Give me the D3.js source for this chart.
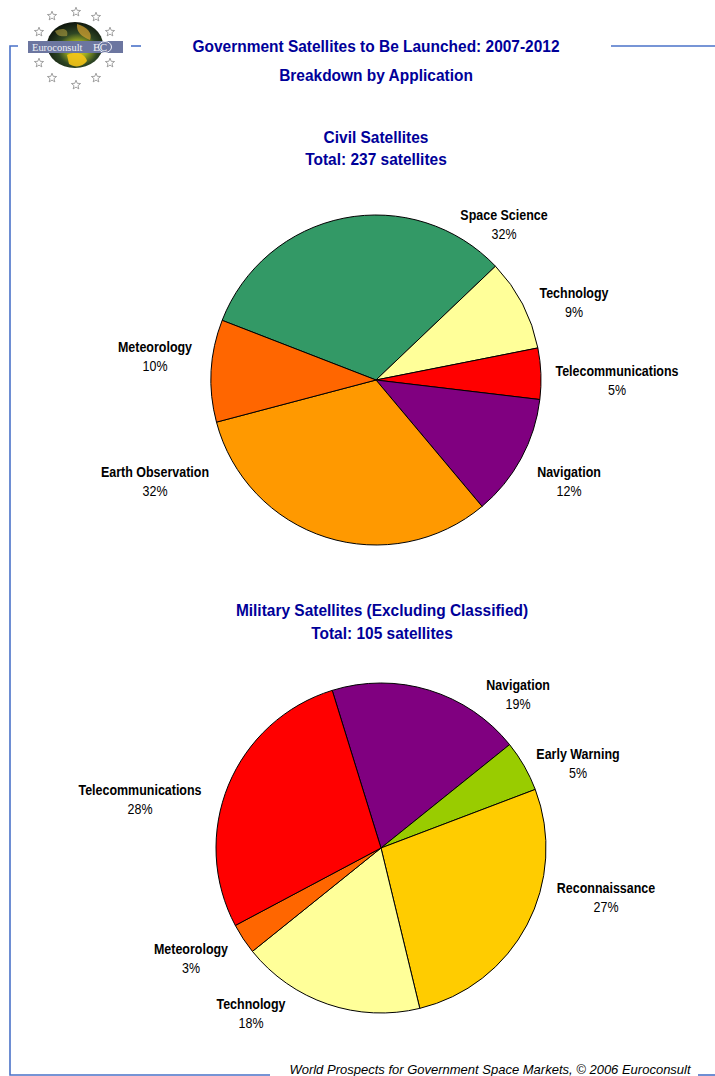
<!DOCTYPE html>
<html>
<head>
<meta charset="utf-8">
<script src="https://cdn.jsdelivr.net/npm/d3@7"></script>
<style>
  html, body { margin: 0; padding: 0; background: #ffffff; }
  svg { display: block; }
</style>
</head>
<body>
<svg id="chart" width="715" height="1076"></svg>
<script>
// Civil satellites, share by application (%)
const civilApps = ["Space Science", "Technology", "Telecommunications", "Navigation", "Earth Observation", "Meteorology"];
const civilShares = [32, 9, 5, 12, 32, 10];
const civilColors = ["#339966", "#FFFF99", "#FF0000", "#800080", "#FF9900", "#FF6600"];

// Military satellites (excluding classified), share by application (%)
const milApps = ["Navigation", "Early Warning", "Reconnaissance", "Technology", "Meteorology", "Telecommunications"];
const milShares = [19, 5, 27, 18, 3, 28];
const milColors = ["#800080", "#99CC00", "#FFCC00", "#FFFF99", "#FF6600", "#FF0000"];

const civilTotal = 237;
const milTotal = 105;

const svg = d3.select("#chart");
const frameColor = "#4a72c8";
const titleColor = "#000099";
const font = '"Liberation Sans", Arial, sans-serif';

// Condensed text: horizontal squeeze around the anchor point
function narrowText(parent, x, y, txt, opts) {
  const t = parent.append("text")
    .attr("transform", `translate(${x},${y}) scale(${opts.squeeze},1)`)
    .attr("text-anchor", opts.anchor || "middle")
    .attr("font-family", opts.family || font)
    .attr("font-size", opts.size)
    .attr("fill", opts.color || "#000")
    .text(txt);
  if (opts.bold) t.attr("font-weight", "bold");
  if (opts.italic) t.attr("font-style", "italic");
  return t;
}

// ---- page frame ----
const frame = svg.append("g").attr("stroke", frameColor).attr("stroke-width", 1.6).attr("fill", "none");
frame.append("path").attr("d", "M18,46 H10 V1075 H270");
frame.append("line").attr("x1", 131).attr("x2", 141).attr("y1", 46).attr("y2", 46);
frame.append("line").attr("x1", 611).attr("x2", 715).attr("y1", 46).attr("y2", 46);
frame.append("line").attr("x1", 698).attr("x2", 715).attr("y1", 1075).attr("y2", 1075);

// ---- logo ----
const defs = svg.append("defs");
const globeGrad = defs.append("radialGradient").attr("id", "globe").attr("cx", "55%").attr("cy", "60%").attr("r", "65%");
globeGrad.append("stop").attr("offset", "0%").attr("stop-color", "#f0d818");
globeGrad.append("stop").attr("offset", "28%").attr("stop-color", "#98a820");
globeGrad.append("stop").attr("offset", "55%").attr("stop-color", "#2e4624");
globeGrad.append("stop").attr("offset", "100%").attr("stop-color", "#080c08");
const logo = svg.append("g").attr("transform", "translate(75,45)");
logo.append("ellipse").attr("rx", 28).attr("ry", 23).attr("fill", "url(#globe)");
logo.append("path").attr("d", "M-8,10 C0,6 10,8 12,16 C8,22 0,23 -6,19 Z").attr("fill", "#f4c418").attr("opacity", 0.9);
logo.append("path").attr("d", "M2,-21 C12,-18 18,-12 15,-5 C7,-8 1,-13 2,-21 Z").attr("fill", "#d0a030").attr("opacity", 0.75);
logo.append("path").attr("d", "M-20,-14 C-12,-18 -6,-16 -8,-9 C-14,-8 -18,-9 -20,-14 Z").attr("fill", "#b0a040").attr("opacity", 0.6);
logo.append("rect").attr("x", -47).attr("y", -4).attr("width", 95).attr("height", 12).attr("fill", "#6c76a0");
const serif = '"Liberation Serif", "DejaVu Serif", serif';
narrowText(logo, -43, 6, "Euroconsult", { size: 11, squeeze: 0.95, anchor: "start", family: serif, color: "#eef0f6" });
narrowText(logo, 18, 6, "EC", { size: 11, squeeze: 1, anchor: "start", family: serif, color: "#eef0f6" });
logo.append("ellipse").attr("cx", 30).attr("cy", 2).attr("rx", 6.5).attr("ry", 5.5)
  .attr("fill", "none").attr("stroke", "#eef0f6").attr("stroke-width", 1);
const starPts = d3.range(10).map(i => {
  const r = i % 2 === 0 ? 4.8 : 2.1;
  const a = -Math.PI / 2 + i * Math.PI / 5;
  return [r * Math.cos(a), r * Math.sin(a)];
});
const starLocs = [[1, -33], [-23, -29], [21, -28], [-36, -13], [35, -13], [-36, 18], [35, 18], [-23, 33], [21, 33], [1, 40]];
logo.selectAll("polygon.star").data(starLocs).enter().append("polygon")
  .attr("class", "star")
  .attr("points", starPts.map(p => p.join(",")).join(" "))
  .attr("transform", d => `translate(${d[0]},${d[1]})`)
  .attr("fill", "#ffffff").attr("stroke", "#8a8a8a").attr("stroke-width", 0.8);

// ---- headings ----
const heads = svg.append("g");
const heading = (x, y, txt) => narrowText(heads, x, y, txt, { size: 17, squeeze: 0.91, bold: true, color: titleColor });
heading(376, 52, "Government Satellites to Be Launched: 2007-2012");
heading(376, 81, "Breakdown by Application");
heading(376, 143, "Civil Satellites");
heading(376, 165, `Total: ${civilTotal} satellites`);
heading(382, 616, "Military Satellites (Excluding Classified)");
heading(382, 639, `Total: ${milTotal} satellites`);

// ---- pies ----
const deg = Math.PI / 180;
function drawPie(cfg) {
  const data = cfg.apps.map((a, i) => ({ app: a, value: cfg.values[i], color: cfg.colors[i], label: cfg.labels[i] }));
  const pie = d3.pie().value(d => d.value).sort(null)
    .startAngle(cfg.start * deg).endAngle(cfg.start * deg + 2 * Math.PI);
  const arc = d3.arc().innerRadius(0).outerRadius(cfg.r);
  const g = svg.append("g").attr("transform", `translate(${cfg.cx},${cfg.cy})`);
  const arcs = pie(data);
  g.selectAll("path").data(arcs).enter().append("path")
    .attr("d", arc).attr("fill", d => d.data.color)
    .attr("stroke", "#000").attr("stroke-width", 1).attr("stroke-linejoin", "round");

  const lab = svg.append("g");
  arcs.forEach(a => {
    const [lx, ly] = a.data.label;
    narrowText(lab, lx, ly, a.data.app, { size: 14, squeeze: 0.89, bold: true });
    narrowText(lab, lx, ly + 19, Math.round(a.data.value) + "%", { size: 14, squeeze: 0.89 });
  });
}

drawPie({
  apps: civilApps, values: civilShares, colors: civilColors,
  cx: 376, cy: 380, r: 165, start: -68.8,
  labels: [[504, 220], [574, 298], [617, 376], [569, 477], [155, 477], [155, 352]]
});

drawPie({
  apps: milApps, values: milShares, colors: milColors,
  cx: 381, cy: 848, r: 165, start: -17.2,
  labels: [[518, 690], [578, 759], [606, 893], [251, 1009], [191, 954], [140, 795]]
});

// ---- footer ----
narrowText(svg, 490, 1074, "World Prospects for Government Space Markets, © 2006 Euroconsult",
  { size: 13, squeeze: 1, italic: true });
</script>
</body>
</html>
